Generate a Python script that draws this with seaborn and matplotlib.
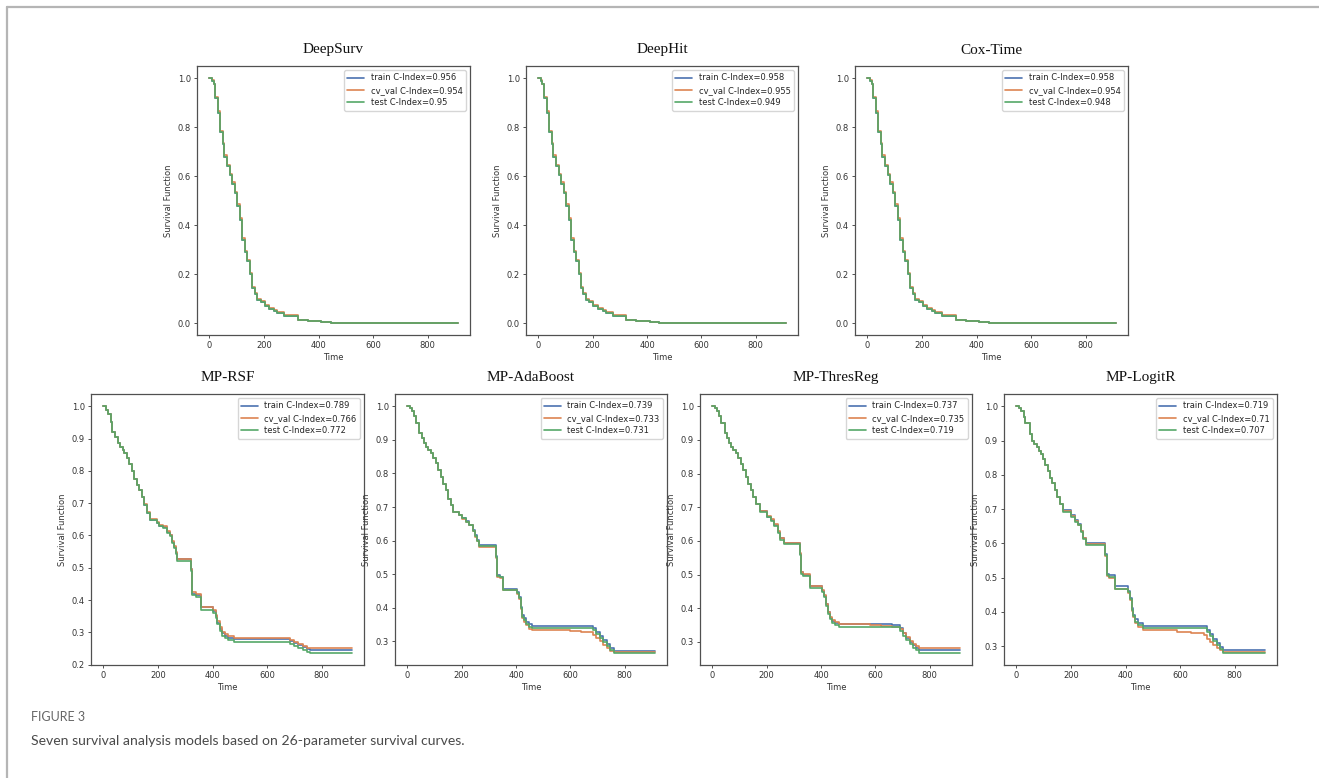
import matplotlib
matplotlib.use("Agg")
import matplotlib.pyplot as plt
import pandas as pd
import seaborn as sns
from matplotlib.lines import Line2D

# ---------------- data ----------------
series_names = ["train", "cv_val", "test"]

models = ["DeepSurv", "DeepHit", "Cox-Time",
          "MP-RSF", "MP-AdaBoost", "MP-ThresReg", "MP-LogitR"]
train_ci = [0.956, 0.958, 0.958, 0.789, 0.739, 0.737, 0.719]
val_ci = [0.954, 0.955, 0.954, 0.766, 0.733, 0.735, 0.71]
test_ci = [0.95, 0.949, 0.948, 0.772, 0.731, 0.719, 0.707]

# deep models (DeepSurv / DeepHit / Cox-Time look identical)
deep_time = [0, 8, 15, 22, 32, 40, 49, 55, 65, 75, 83, 93, 102, 112, 120, 130, 139, 148,
             157, 166, 175, 188, 202, 218, 237, 249, 274, 323, 360, 409, 445, 690, 910]
deep_train = [1.000, 0.990, 0.975, 0.920, 0.860, 0.780, 0.730, 0.680, 0.640, 0.605,
              0.570, 0.530, 0.480, 0.420, 0.340, 0.290, 0.255, 0.200, 0.145, 0.120,
              0.095, 0.085, 0.070, 0.060, 0.050, 0.040, 0.030, 0.012, 0.008, 0.006,
              0.003, 0.002, 0.002]
deep_val = [1.000, 0.992, 0.978, 0.925, 0.865, 0.786, 0.735, 0.685, 0.645, 0.610,
            0.575, 0.535, 0.485, 0.428, 0.347, 0.296, 0.260, 0.206, 0.150, 0.124,
            0.099, 0.089, 0.074, 0.064, 0.054, 0.044, 0.033, 0.013, 0.009, 0.006,
            0.003, 0.002, 0.002]
deep_test = [1.000, 0.990, 0.975, 0.920, 0.860, 0.780, 0.730, 0.680, 0.640, 0.605,
             0.570, 0.530, 0.480, 0.420, 0.340, 0.290, 0.255, 0.200, 0.145, 0.120,
             0.095, 0.085, 0.070, 0.060, 0.050, 0.040, 0.030, 0.012, 0.008, 0.006,
             0.003, 0.002, 0.002]

# MP-RSF
rsf_time = [0, 8, 18, 27, 33, 43, 53, 61, 70, 77, 86, 94, 104, 112, 122, 131, 141, 149, 159, 171,
            196, 204, 220, 232, 245, 251, 259, 265, 271, 320, 326, 339, 357, 403, 412, 418, 428,
            434, 444, 458, 477, 685, 700, 715, 730, 745, 758, 910]
rsf_train = [1.000, 0.990, 0.975, 0.950, 0.920, 0.905, 0.885, 0.875, 0.865, 0.855,
             0.840, 0.820, 0.800, 0.775, 0.755, 0.740, 0.720, 0.695, 0.670, 0.648,
             0.640, 0.630, 0.625, 0.610, 0.600, 0.580, 0.565, 0.545, 0.527, 0.495,
             0.420, 0.415, 0.378, 0.365, 0.350, 0.330, 0.310, 0.297, 0.290, 0.284,
             0.278, 0.272, 0.266, 0.260, 0.254, 0.248, 0.245, 0.245]
rsf_val = [1.000, 0.990, 0.975, 0.950, 0.920, 0.905, 0.885, 0.875, 0.865, 0.855,
           0.840, 0.820, 0.800, 0.775, 0.755, 0.740, 0.720, 0.697, 0.672, 0.650,
           0.643, 0.633, 0.628, 0.613, 0.603, 0.583, 0.568, 0.548, 0.528, 0.497,
           0.425, 0.418, 0.379, 0.368, 0.354, 0.335, 0.315, 0.302, 0.294, 0.289,
           0.281, 0.276, 0.270, 0.264, 0.258, 0.252, 0.250, 0.250]
rsf_test = [1.000, 0.990, 0.975, 0.950, 0.920, 0.905, 0.885, 0.875, 0.865, 0.855,
            0.840, 0.820, 0.800, 0.775, 0.755, 0.740, 0.720, 0.695, 0.670, 0.647,
            0.638, 0.628, 0.622, 0.607, 0.597, 0.577, 0.562, 0.542, 0.522, 0.490,
            0.415, 0.410, 0.370, 0.360, 0.345, 0.325, 0.305, 0.290, 0.282, 0.276,
            0.270, 0.264, 0.258, 0.252, 0.246, 0.240, 0.237, 0.237]

# MP-AdaBoost
ada_time = [0, 10, 18, 26, 33, 43, 53, 61, 70, 77, 86, 94, 104, 112, 122, 131, 141, 149, 159, 168,
            190, 200, 215, 225, 240, 248, 255, 265, 325, 330, 340, 352, 405, 412, 418, 422, 430,
            438, 448, 460, 600, 640, 682, 695, 708, 720, 733, 746, 760, 910]
ada_train = [1.000, 0.995, 0.985, 0.970, 0.950, 0.920, 0.905, 0.890, 0.880, 0.870,
             0.860, 0.845, 0.830, 0.810, 0.790, 0.770, 0.750, 0.725, 0.705, 0.684,
             0.677, 0.667, 0.657, 0.647, 0.632, 0.617, 0.602, 0.587, 0.553, 0.497,
             0.492, 0.457, 0.447, 0.432, 0.402, 0.378, 0.368, 0.358, 0.350, 0.345,
             0.345, 0.345, 0.340, 0.328, 0.316, 0.304, 0.292, 0.280, 0.272, 0.272]
ada_val = [1.000, 0.995, 0.985, 0.970, 0.950, 0.920, 0.905, 0.890, 0.880, 0.870,
           0.860, 0.845, 0.830, 0.810, 0.790, 0.770, 0.750, 0.725, 0.705, 0.684,
           0.675, 0.665, 0.655, 0.645, 0.628, 0.612, 0.598, 0.582, 0.548, 0.492,
           0.488, 0.452, 0.442, 0.427, 0.395, 0.370, 0.358, 0.347, 0.338, 0.333,
           0.330, 0.327, 0.320, 0.310, 0.300, 0.290, 0.280, 0.272, 0.268, 0.268]
ada_test = [1.000, 0.995, 0.985, 0.970, 0.950, 0.920, 0.905, 0.890, 0.880, 0.870,
            0.860, 0.845, 0.830, 0.810, 0.790, 0.770, 0.750, 0.725, 0.705, 0.684,
            0.676, 0.666, 0.656, 0.646, 0.630, 0.615, 0.600, 0.585, 0.550, 0.494,
            0.490, 0.453, 0.444, 0.429, 0.398, 0.373, 0.362, 0.352, 0.343, 0.339,
            0.339, 0.339, 0.334, 0.322, 0.310, 0.298, 0.286, 0.274, 0.266, 0.266]

# MP-ThresReg
thr_time = [0, 10, 18, 26, 33, 46, 53, 61, 70, 77, 86, 94, 104, 112, 122, 131, 141, 149, 159, 175,
            200, 215, 228, 240, 250, 265, 321, 328, 335, 358, 405, 412, 418, 425, 432, 440, 450,
            465, 580, 620, 660, 690, 702, 714, 726, 738, 750, 762, 910]
thr_train = [1.000, 0.995, 0.985, 0.970, 0.950, 0.920, 0.905, 0.890, 0.880, 0.870,
             0.860, 0.845, 0.830, 0.810, 0.790, 0.770, 0.750, 0.730, 0.710, 0.688,
             0.672, 0.662, 0.648, 0.628, 0.608, 0.594, 0.562, 0.507, 0.500, 0.466,
             0.452, 0.437, 0.412, 0.388, 0.372, 0.362, 0.356, 0.352, 0.352, 0.352,
             0.350, 0.340, 0.325, 0.312, 0.300, 0.290, 0.282, 0.276, 0.276]
thr_val = [1.000, 0.995, 0.985, 0.970, 0.950, 0.920, 0.905, 0.890, 0.880, 0.870,
           0.860, 0.845, 0.830, 0.810, 0.790, 0.770, 0.750, 0.730, 0.710, 0.690,
           0.674, 0.664, 0.650, 0.630, 0.610, 0.595, 0.563, 0.508, 0.501, 0.467,
           0.453, 0.438, 0.414, 0.390, 0.375, 0.364, 0.358, 0.353, 0.350, 0.347,
           0.343, 0.338, 0.326, 0.314, 0.303, 0.294, 0.287, 0.281, 0.281]
thr_test = [1.000, 0.995, 0.985, 0.970, 0.950, 0.920, 0.905, 0.890, 0.880, 0.870,
            0.860, 0.845, 0.830, 0.810, 0.790, 0.770, 0.750, 0.730, 0.710, 0.686,
            0.670, 0.660, 0.645, 0.625, 0.604, 0.590, 0.558, 0.502, 0.496, 0.460,
            0.447, 0.432, 0.407, 0.383, 0.367, 0.357, 0.350, 0.345, 0.345, 0.345,
            0.343, 0.333, 0.318, 0.305, 0.293, 0.283, 0.275, 0.268, 0.268]

# MP-LogitR
lgt_time = [0, 10, 18, 26, 33, 50, 58, 66, 74, 82, 90, 98, 106, 114, 122, 131, 141, 149, 159, 172,
            200, 215, 225, 235, 245, 255, 325, 332, 340, 362, 410, 417, 422, 428, 436, 445, 465,
            590, 640, 686, 698, 710, 722, 734, 746, 759, 910]
lgt_train = [1.000, 0.995, 0.985, 0.970, 0.950, 0.920, 0.900, 0.890, 0.880, 0.870,
             0.860, 0.845, 0.830, 0.810, 0.790, 0.775, 0.755, 0.735, 0.715, 0.697,
             0.682, 0.667, 0.657, 0.637, 0.617, 0.600, 0.568, 0.512, 0.507, 0.476,
             0.462, 0.442, 0.412, 0.392, 0.378, 0.368, 0.360, 0.360, 0.360, 0.360,
             0.347, 0.335, 0.322, 0.310, 0.299, 0.289, 0.289]
lgt_val = [1.000, 0.995, 0.985, 0.970, 0.950, 0.920, 0.900, 0.890, 0.880, 0.870,
           0.860, 0.845, 0.830, 0.810, 0.790, 0.775, 0.755, 0.735, 0.715, 0.695,
           0.680, 0.665, 0.655, 0.635, 0.615, 0.598, 0.563, 0.505, 0.500, 0.466,
           0.456, 0.436, 0.404, 0.384, 0.368, 0.356, 0.346, 0.342, 0.338, 0.333,
           0.322, 0.312, 0.302, 0.294, 0.288, 0.284, 0.284]
lgt_test = [1.000, 0.995, 0.985, 0.970, 0.950, 0.920, 0.900, 0.890, 0.880, 0.870,
            0.860, 0.845, 0.830, 0.810, 0.790, 0.775, 0.755, 0.735, 0.715, 0.693,
            0.678, 0.663, 0.653, 0.633, 0.613, 0.596, 0.565, 0.509, 0.503, 0.467,
            0.457, 0.437, 0.407, 0.387, 0.372, 0.362, 0.353, 0.353, 0.353, 0.353,
            0.341, 0.329, 0.316, 0.304, 0.293, 0.281, 0.281]

curves = {
    "DeepSurv": (deep_time, deep_train, deep_val, deep_test),
    "DeepHit": (deep_time, deep_train, deep_val, deep_test),
    "Cox-Time": (deep_time, deep_train, deep_val, deep_test),
    "MP-RSF": (rsf_time, rsf_train, rsf_val, rsf_test),
    "MP-AdaBoost": (ada_time, ada_train, ada_val, ada_test),
    "MP-ThresReg": (thr_time, thr_train, thr_val, thr_test),
    "MP-LogitR": (lgt_time, lgt_train, lgt_val, lgt_test),
}

# ---------------- style ----------------
sns.set_theme(style="ticks", palette="deep")
plt.rcParams['font.family'] = ['DejaVu Sans']
plt.rcParams.update({
    "axes.edgecolor": "#505050",
    "axes.linewidth": 0.9,
    "xtick.color": "#505050",
    "ytick.color": "#505050",
    "xtick.labelcolor": "#333333",
    "ytick.labelcolor": "#333333",
    "xtick.major.size": 2.5,
    "ytick.major.size": 2.5,
    "xtick.major.width": 0.7,
    "ytick.major.width": 0.7,
    "xtick.labelsize": 6,
    "ytick.labelsize": 6,
    "axes.labelsize": 6,
    "axes.labelcolor": "#333333",
})
palette = sns.color_palette("deep", 3)

W, H = 1319, 778
fig = plt.figure(figsize=(W / 100, H / 100), dpi=100)
fig.patch.set_facecolor("white")


def px_axes(left, top, right, bottom):
    return fig.add_axes([left / W, 1 - bottom / H, (right - left) / W, (bottom - top) / H])


boxes = [
    (197, 66, 470, 335), (526, 66, 798, 335), (855, 66, 1128, 335),
    (91, 394, 364, 665), (395, 394, 667, 665), (700, 394, 972, 665), (1004, 394, 1277, 665),
]

for i, model in enumerate(models):
    ax = px_axes(*boxes[i])
    t, tr, va, te = curves[model]
    labels = [f"train C-Index={train_ci[i]}",
              f"cv_val C-Index={val_ci[i]}",
              f"test C-Index={test_ci[i]}"]
    df = pd.concat([
        pd.DataFrame({"Time": t, "S": vals, "series": lab})
        for vals, lab in zip((tr, va, te), labels)
    ], ignore_index=True)
    sns.lineplot(data=df, x="Time", y="S", hue="series", hue_order=labels,
                 palette=palette, estimator=None, sort=False,
                 drawstyle="steps-post", linewidth=1.2, legend=False, ax=ax)
    ax.set_xticks([0, 200, 400, 600, 800])
    ax.set_xlabel("Time", labelpad=2)
    ax.set_ylabel("Survival Function", labelpad=3)
    ax.set_title(model, family="Liberation Serif", fontsize=11, pad=9, color="#111111")
    ax.tick_params(pad=2)
    ax.legend(ax.lines[:3], labels, loc="upper right", fontsize=6,
              frameon=True, fancybox=True, framealpha=0.8, edgecolor="#cccccc",
              borderpad=0.4, labelspacing=0.4, handlelength=2.0)

# figure frame (top and left border)
fig.add_artist(Line2D([7 / W, 1], [1 - 7 / H, 1 - 7 / H], transform=fig.transFigure,
                      color="#b5b5b5", lw=1.6))
fig.add_artist(Line2D([7 / W, 7 / W], [0, 1 - 7 / H], transform=fig.transFigure,
                      color="#b5b5b5", lw=1.6))

fig.text(31 / W, 1 - 717 / H, "FIGURE 3", family=["Lato", "DejaVu Sans"],
         fontsize=9, color="#666666", va="center", ha="left")
fig.text(31 / W, 1 - 741 / H,
         "Seven survival analysis models based on 26-parameter survival curves.",
         family=["Lato", "DejaVu Sans"], fontweight="normal", fontsize=10.1, color="#4a4a4a",
         va="center", ha="left")

fig.savefig("out.png", dpi=100, facecolor="white")
